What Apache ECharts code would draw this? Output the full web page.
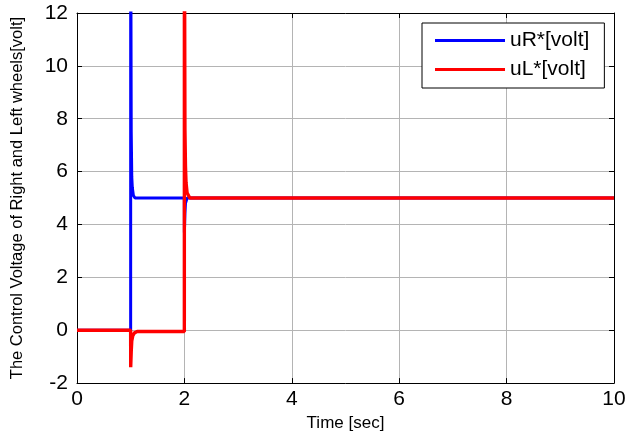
<!DOCTYPE html>
<html>
<head>
<meta charset="utf-8">
<script src="https://cdn.jsdelivr.net/npm/echarts@6/dist/echarts.min.js"></script>
<style>html,body{margin:0;padding:0;background:#fff}#c{width:632px;height:437px}</style>
</head>
<body>
<div id="c"></div>
<script>
// Data
var xTicks = [0, 2, 4, 6, 8, 10];
var yTicks = [-2, 0, 2, 4, 6, 8, 10, 12];
var tR = [0, 0.999, 1.0, 1.005, 1.01, 1.02, 1.03, 1.05, 1.08, 1.999, 2.0, 2.01, 2.02, 2.05, 10];
var uR = [0, 0, 20, 12, 7.5, 5.8, 5.4, 5.1, 5.0, 5.0, 3.7, 4.4, 4.8, 5.0, 5.0];
var tL = [0, 0.999, 1.0, 1.01, 1.02, 1.04, 1.07, 1.12, 1.999, 2.0, 2.005, 2.01, 2.02, 2.03, 2.05, 2.1, 10];
var uL = [0, 0, -1.4, -0.8, -0.4, -0.2, -0.1, -0.05, -0.05, 20, 12, 7.6, 6.2, 5.6, 5.2, 5.0, 5.0];
var names = ['uR*[volt]', 'uL*[volt]'];

function pairs(t, v) { return t.map(function (x, i) { return [x, v[i]]; }); }

var font = 'Liberation Sans, Arial, sans-serif';
var chart = echarts.init(document.getElementById('c'), null, {renderer: 'canvas'});
var axisLine = {show: true, onZero: false, lineStyle: {color: '#000', width: 1}};
var tick = {show: true, inside: true, length: 5, lineStyle: {color: '#000'}};
var grid = {show: true, lineStyle: {color: '#b4b4b4', width: 1, type: 'solid'}};
chart.setOption({
  animation: false,
  backgroundColor: '#fff',
  grid: {left: 77, right: 18, top: 13, bottom: 53, show: false},
  legend: {
    left: 422, top: 23, orient: 'vertical',
    data: names,
    icon: 'rect',
    backgroundColor: '#fff', borderColor: '#000', borderWidth: 1, borderRadius: 0,
    padding: [7, 15, 8, 13], itemGap: 8,
    itemWidth: 70, itemHeight: 3,
    textStyle: {fontFamily: font, fontSize: 21, color: '#000'}
  },
  xAxis: [{
    type: 'value', min: xTicks[0], max: xTicks[xTicks.length - 1], interval: 2,
    name: 'Time [sec]', nameLocation: 'middle', nameGap: 26,
    nameTextStyle: {fontFamily: font, fontSize: 17, color: '#000'},
    axisLine: axisLine, axisTick: tick, splitLine: grid,
    axisLabel: {fontFamily: font, fontSize: 21, color: '#000', margin: 6}
  }, {
    type: 'value', position: 'top', min: 0, max: 10, interval: 2,
    axisLine: axisLine, axisTick: tick, splitLine: {show: false}, axisLabel: {show: false}
  }],
  yAxis: [{
    type: 'value', min: yTicks[0], max: yTicks[yTicks.length - 1], interval: 2,
    name: 'The Control Voltage of Right and Left wheels[volt]', nameLocation: 'middle', nameGap: 51,
    nameTextStyle: {fontFamily: font, fontSize: 16.5, color: '#000'},
    axisLine: axisLine, axisTick: tick, splitLine: grid,
    axisLabel: {fontFamily: font, fontSize: 21, color: '#000', margin: 9}
  }, {
    type: 'value', position: 'right', min: -2, max: 12, interval: 2,
    axisLine: axisLine, axisTick: tick, splitLine: {show: false}, axisLabel: {show: false}
  }],
  series: [{
    name: names[0], type: 'line', data: pairs(tR, uR), symbol: 'none', clip: true,
    lineStyle: {color: '#0000ff', width: 3}, itemStyle: {color: '#0000ff'}, z: 3
  }, {
    name: names[1], type: 'line', data: pairs(tL, uL), symbol: 'none', clip: true,
    lineStyle: {color: '#ff0000', width: 3.4}, itemStyle: {color: '#ff0000'}, z: 4
  }]
});
</script>
</body>
</html>
